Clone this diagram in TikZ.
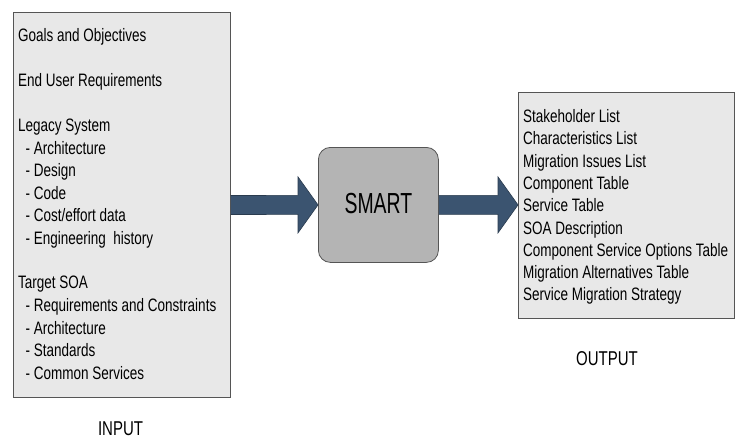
\documentclass[tikz,border=0pt]{standalone}
\usepackage{fontspec}
\setmainfont[FakeStretch=0.75]{Liberation Sans}
\newfontfamily\smartfont[FakeStretch=0.67]{Liberation Sans}
\usetikzlibrary{calc}
\definecolor{boxfill}{HTML}{E8E8E8}
\definecolor{boxline}{HTML}{555555}
\definecolor{smartfill}{HTML}{B4B4B4}
\definecolor{arrowfill}{HTML}{3B5470}
\definecolor{arrowline}{HTML}{2A3B4E}
\tikzset{
  panel/.style={draw=boxline, line width=0.8pt, fill=boxfill, anchor=north west, inner sep=0pt},
  core/.style={draw=boxline, line width=0.8pt, fill=smartfill, rounded corners=12pt, anchor=north west, inner sep=0pt},
  item/.style={anchor=base west, inner sep=0pt, font=\fontsize{18}{20}\selectfont},
  caption/.style={anchor=base, inner sep=0pt, font=\fontsize{20}{22}\selectfont},
  fatarrow/.style={fill=arrowfill, draw=arrowline, line width=0.6pt}
}
\begin{document}
\begin{tikzpicture}[x=1pt,y=-1pt]
\useasboundingbox[fill=white] (0,0) rectangle (736,439);
% boxes
\node[panel, minimum width=217pt, minimum height=385pt] (in) at (13,12) {};
\node[core, minimum width=120pt, minimum height=115pt] (smart) at (318,147) {};
\node[panel, minimum width=216pt, minimum height=226pt] (out) at (518,92) {};
\node[anchor=base, inner sep=0pt, font=\smartfont\fontsize{29}{32}\selectfont] (smarttext) at ($(smart.center |- 0,213.3)$) {SMART};
% arrows
\coordinate (a1s) at (in.east |- 0,205);
\coordinate (a1t) at (smart.west);
\draw[fatarrow] ($(a1s)+(0,-9.5)$) -- ($(a1t)+(-20,-9.5)$) -- ($(a1t)+(-20,-28)$) -- (a1t) -- ($(a1t)+(-20,28)$) -- ($(a1t)+(-20,9.5)$) -- ($(a1s)+(0,9.5)$);
\coordinate (a2s) at (smart.east);
\coordinate (a2t) at (out.west |- smart.east);
\draw[fatarrow] ($(a2s)+(0,-9.5)$) -- ($(a2t)+(-20,-9.5)$) -- ($(a2t)+(-20,-28)$) -- (a2t) -- ($(a2t)+(-20,28)$) -- ($(a2t)+(-20,9.5)$) -- ($(a2s)+(0,9.5)$);
% input list
\node[item] (i1) at (18,41.7) {Goals and Objectives};
\node[item] (i2) at (18,86.6) {End User Requirements};
\node[item] (i3) at (18,131.5) {Legacy System};
\node[item] (i4) at (18,154.1) {\ \ - Architecture};
\node[item] (i5) at (18,176.7) {\ \ - Design};
\node[item] (i6) at (18,199.3) {\ \ - Code};
\node[item] (i7) at (18,221.9) {\ \ - Cost/effort data};
\node[item] (i8) at (18,244.5) {\ \ - Engineering\ \ history};
\node[item] (i9) at (18,288.5) {Target SOA};
\node[item] (i10) at (18,311.3) {\ \ - Requirements and Constraints};
\node[item] (i11) at (18,334.1) {\ \ - Architecture};
\node[item] (i12) at (18,356.9) {\ \ - Standards};
\node[item] (i13) at (18,379.7) {\ \ - Common Services};
% output list
\node[item] (o1) at (523,122.5) {Stakeholder List};
\node[item] (o2) at (523,144.8) {Characteristics List};
\node[item] (o3) at (523,167.1) {Migration Issues List};
\node[item] (o4) at (523,189.4) {Component Table};
\node[item] (o5) at (523,211.7) {Service Table};
\node[item] (o6) at (523,234.0) {SOA Description};
\node[item] (o7) at (523,256.3) {Component Service Options Table};
\node[item] (o8) at (523,278.6) {Migration Alternatives Table};
\node[item] (o9) at (523,300.9) {Service Migration Strategy};
% captions
\node[caption] (inlab) at (120.5,435.5) {INPUT};
\node[caption] (outlab) at (607,365) {OUTPUT};
\end{tikzpicture}
\end{document}
